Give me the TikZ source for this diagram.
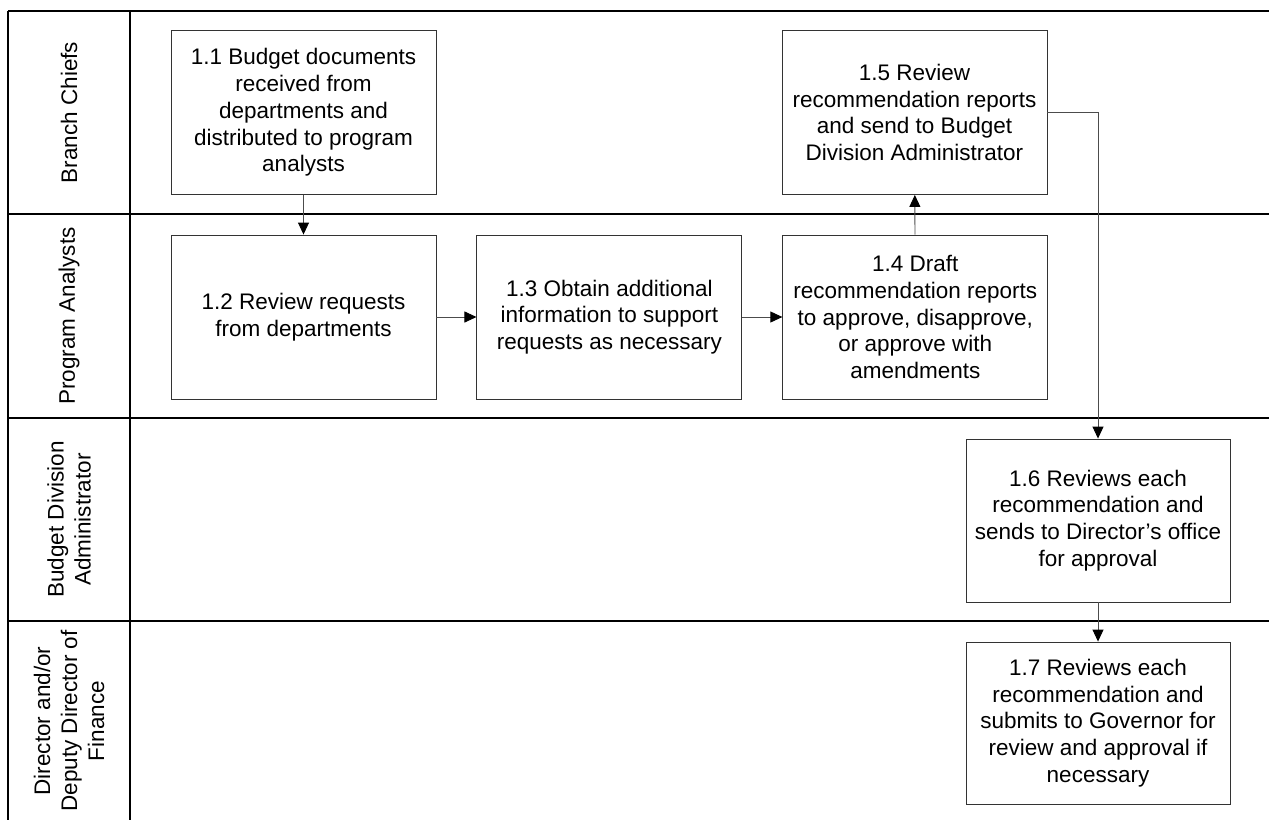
\documentclass[tikz,border=0pt]{standalone}
\usepackage{fontspec}
\setmainfont{Liberation Sans}
\usetikzlibrary{positioning, arrows.meta}

\tikzset{
  task/.style={draw=black!80, line width=0.9pt, minimum width=265pt, minimum height=164pt,
    inner sep=0pt, align=center, font=\fontsize{22.5}{26.7}\selectfont},
  lanelabel/.style={rotate=90, align=center, inner sep=0pt, font=\fontsize{22.5}{27}\selectfont},
  flow/.style={draw=black!70, line width=0.9pt, -{Triangle[length=12pt,width=11pt,color=black]}},
  laneline/.style={line width=1.3pt}
}

\begin{document}
\begin{tikzpicture}[x=1pt, y=-1pt]
    \useasboundingbox (0,0) rectangle (1269,820);

    % lanes
    \draw[laneline] (8,11) -- (1269,11);
    \draw[laneline] (8,214) -- (1269,214);
    \draw[laneline] (8,418) -- (1269,418);
    \draw[laneline] (8,621) -- (1269,621);
    \draw[laneline] (8,11) -- (8,820);
    \draw[laneline] (130,11) -- (130,820);

    \node[lanelabel] (chiefs) at (69,112.5) {Branch Chiefs};
    \node[lanelabel] (analysts) at (69,316) {Program Analysts};
    \node[lanelabel] (admin) at (69,519.5) {Budget Division\\Administrator};
    \node[lanelabel] (director) at (69,721) {Director and/or\\Deputy Director of\\Finance};

    % tasks
    \node[task] (t11) at (303.5,112.5) {1.1 Budget documents\\received from\\departments and\\distributed to program\\analysts};
    \node[task] (t15) at (914.5,112.5) {1.5 Review\\recommendation reports\\and send to Budget\\Division Administrator};
    \node[task] (t12) at (303.5,317) {1.2 Review requests\\from departments};
    \node[task, right=40pt of t12] (t13) {1.3 Obtain additional\\information to support\\requests as necessary};
    \node[task, right=40pt of t13] (t14) {1.4 Draft\\recommendation reports\\to approve, disapprove,\\or approve with\\amendments};
    \node[task, minimum width=264pt, minimum height=163pt] (t16) at (1098,520.5) {1.6 Reviews each\\recommendation and\\sends to Director’s office\\for approval};
    \node[task, minimum width=264pt, minimum height=162pt] (t17) at (1098,723) {1.7 Reviews each\\recommendation and\\submits to Governor for\\review and approval if\\necessary};

    % connectors
    \draw[flow] (t11) -- (t12);
    \draw[flow] (t12) -- (t13);
    \draw[flow] (t13) -- (t14);
    \draw[flow] (t14) -- (t15);
    \draw[flow] (t15.east) -| (t16.north);
    \draw[flow] (t16) -- (t17);
\end{tikzpicture}
\end{document}
